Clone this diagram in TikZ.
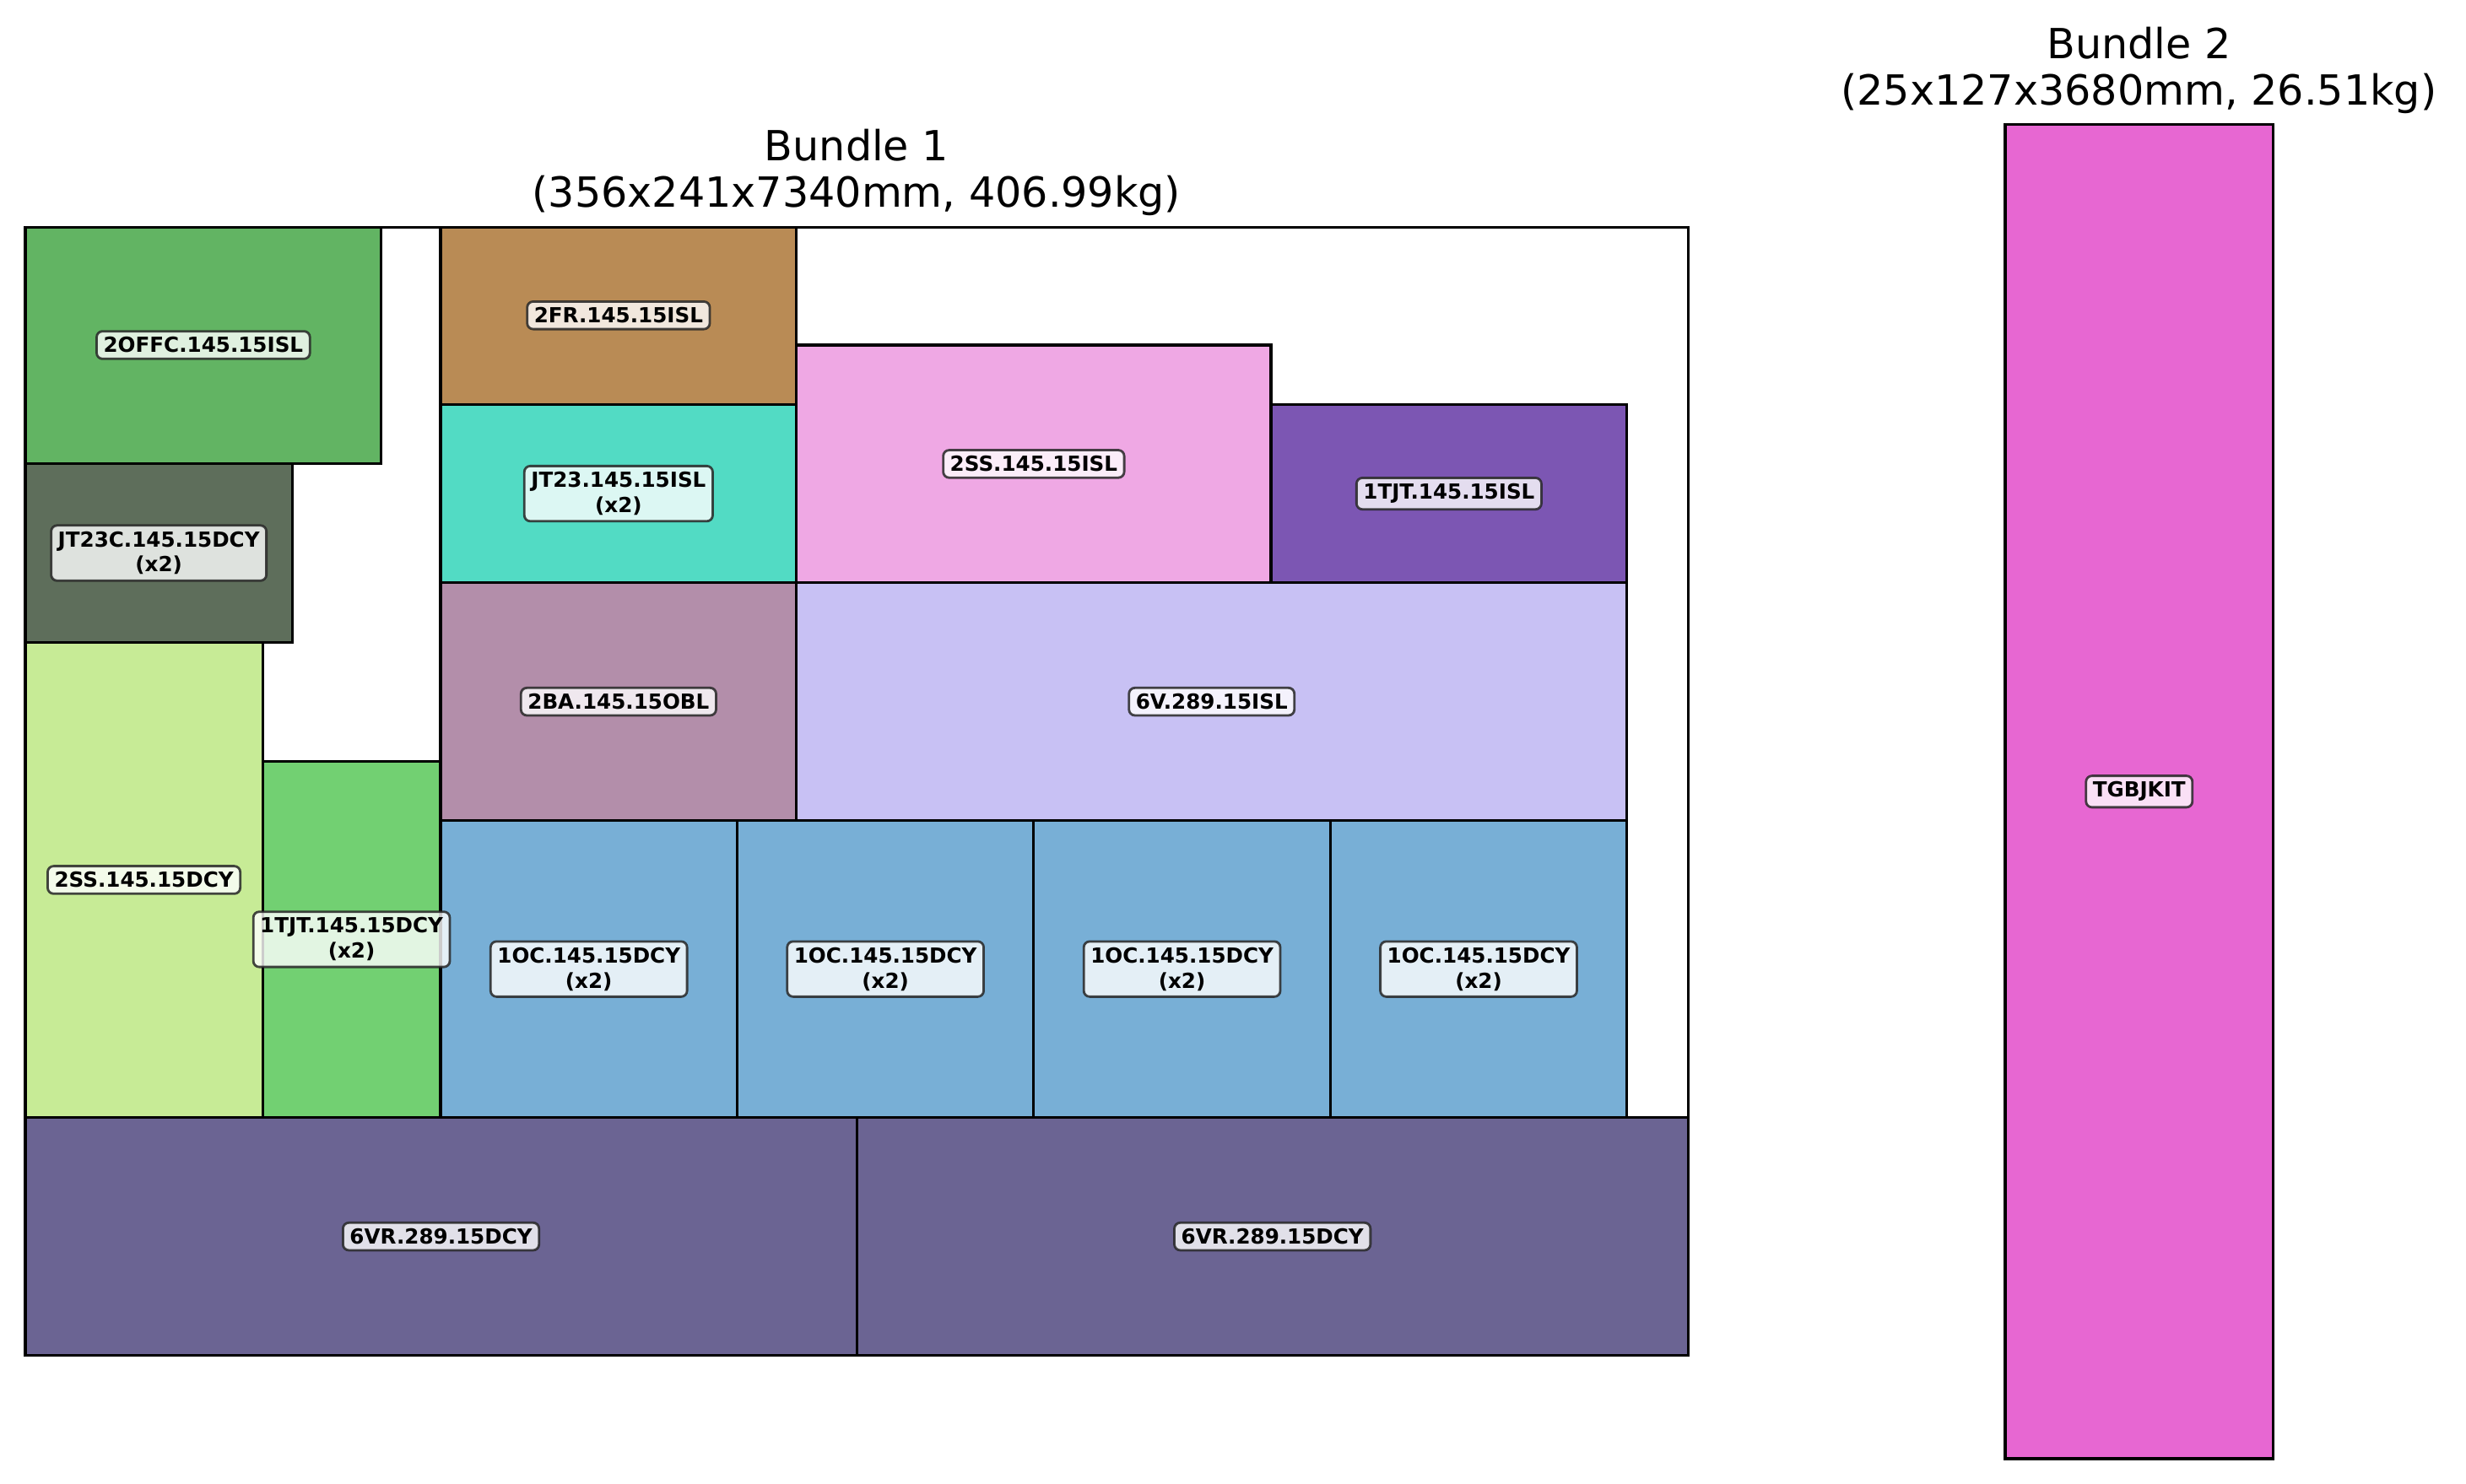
\documentclass[tikz,border=0pt]{standalone}
\usepackage{fontspec}
\setmainfont{DejaVu Sans}
\definecolor{cOFFC}{HTML}{62B463}
\definecolor{cJTC}{HTML}{5E6E5B}
\definecolor{cSSD}{HTML}{C7EB96}
\definecolor{cTJD}{HTML}{72D072}
\definecolor{cOC}{HTML}{78AFD6}
\definecolor{cBA}{HTML}{B38EAA}
\definecolor{cV}{HTML}{C8C1F4}
\definecolor{cJT}{HTML}{52DBC4}
\definecolor{cFR}{HTML}{B98B55}
\definecolor{cSSI}{HTML}{EFA8E4}
\definecolor{cTJI}{HTML}{7C56B3}
\definecolor{cVR}{HTML}{6B6493}
\definecolor{cTG}{HTML}{E767D2}
\begin{document}
\begin{tikzpicture}
\useasboundingbox (0,0) rectangle (29.22,-17.59);
\tikzset{
  itembox/.style={draw=black, line width=0.9pt},
  lbl/.style={fill=white, fill opacity=0.8, text opacity=1, draw=black!85, draw opacity=0.85,
    line width=0.8pt, rounded corners=2pt, inner xsep=2.3pt, inner ysep=2pt,
    font=\fontsize{7}{8.5}\selectfont\bfseries, align=center},
  ttl/.style={font=\fontsize{14}{16}\selectfont, anchor=base}
}
% titles
\node[ttl] (t1a) at (10.15,-1.91) {Bundle 1};
\node[ttl] (t1b) at (10.15,-2.46) {(356x241x7340mm, 406.99kg)};
\node[ttl] (t2a) at (25.345,-0.70) {Bundle 2};
\node[ttl] (t2b) at (25.345,-1.25) {(25x127x3680mm, 26.51kg)};
% Bundle 1
\begin{scope}[shift={(0.30cm,-16.065cm)}, x=0.05534cm, y=0.05546cm]
  \draw[itembox, fill=cVR] (0,0) rectangle (178,50.8);
  \draw[itembox, fill=cVR] (178,0) rectangle (356,50.8);
  \draw[itembox, fill=cSSD] (0,50.8) rectangle (50.8,152.4);
  \draw[itembox, fill=cTJD] (50.8,50.8) rectangle (88.9,127);
  \draw[itembox, fill=cOC] (88.9,50.8) rectangle (152.4,114.3);
  \draw[itembox, fill=cOC] (152.4,50.8) rectangle (215.9,114.3);
  \draw[itembox, fill=cOC] (215.9,50.8) rectangle (279.4,114.3);
  \draw[itembox, fill=cOC] (279.4,50.8) rectangle (342.9,114.3);
  \draw[itembox, fill=cBA] (88.9,114.3) rectangle (165.1,165.1);
  \draw[itembox, fill=cV] (165.1,114.3) rectangle (342.9,165.1);
  \draw[itembox, fill=cJT] (88.9,165.1) rectangle (165.1,203.2);
  \draw[itembox, fill=cFR] (88.9,203.2) rectangle (165.1,241);
  \draw[itembox, fill=cSSI] (165.1,165.1) rectangle (266.7,215.9);
  \draw[itembox, fill=cTJI] (266.7,165.1) rectangle (342.9,203.2);
  \draw[itembox, fill=cJTC] (0,152.4) rectangle (57.15,190.5);
  \draw[itembox, fill=cOFFC] (0,190.5) rectangle (76.2,241);
  \draw[itembox] (0,0) rectangle (356,241);
  % labels
  \node[lbl] (lvr1) at (89,25.4) {6VR.289.15DCY};
  \node[lbl] (lvr2) at (267,25.4) {6VR.289.15DCY};
  \node[lbl] (lssd) at (25.4,101.6) {2SS.145.15DCY};
  \node[lbl] (ltjd) at (69.85,88.9) {1TJT.145.15DCY\\(x2)};
  \node[lbl] (loc1) at (120.65,82.55) {1OC.145.15DCY\\(x2)};
  \node[lbl] (loc2) at (184.15,82.55) {1OC.145.15DCY\\(x2)};
  \node[lbl] (loc3) at (247.65,82.55) {1OC.145.15DCY\\(x2)};
  \node[lbl] (loc4) at (311.15,82.55) {1OC.145.15DCY\\(x2)};
  \node[lbl] (lba) at (127,139.7) {2BA.145.15OBL};
  \node[lbl] (lv) at (254,139.7) {6V.289.15ISL};
  \node[lbl] (ljt) at (127,184.15) {JT23.145.15ISL\\(x2)};
  \node[lbl] (lfr) at (127,222.25) {2FR.145.15ISL};
  \node[lbl] (lssi) at (215.9,190.5) {2SS.145.15ISL};
  \node[lbl] (ltji) at (304.8,184.15) {1TJT.145.15ISL};
  \node[lbl] (ljtc) at (28.575,171.45) {JT23C.145.15DCY\\(x2)};
  \node[lbl] (loffc) at (38.1,215.9) {2OFFC.145.15ISL};
\end{scope}
% Bundle 2
\begin{scope}[shift={(23.76cm,-17.29cm)}, x=0.125cm, y=0.12453cm]
  \draw[itembox, fill=cTG] (0,0) rectangle (25.4,127);
  \node[lbl] (ltg) at (12.7,63.5) {TGBJKIT};
\end{scope}
\end{tikzpicture}
\end{document}
